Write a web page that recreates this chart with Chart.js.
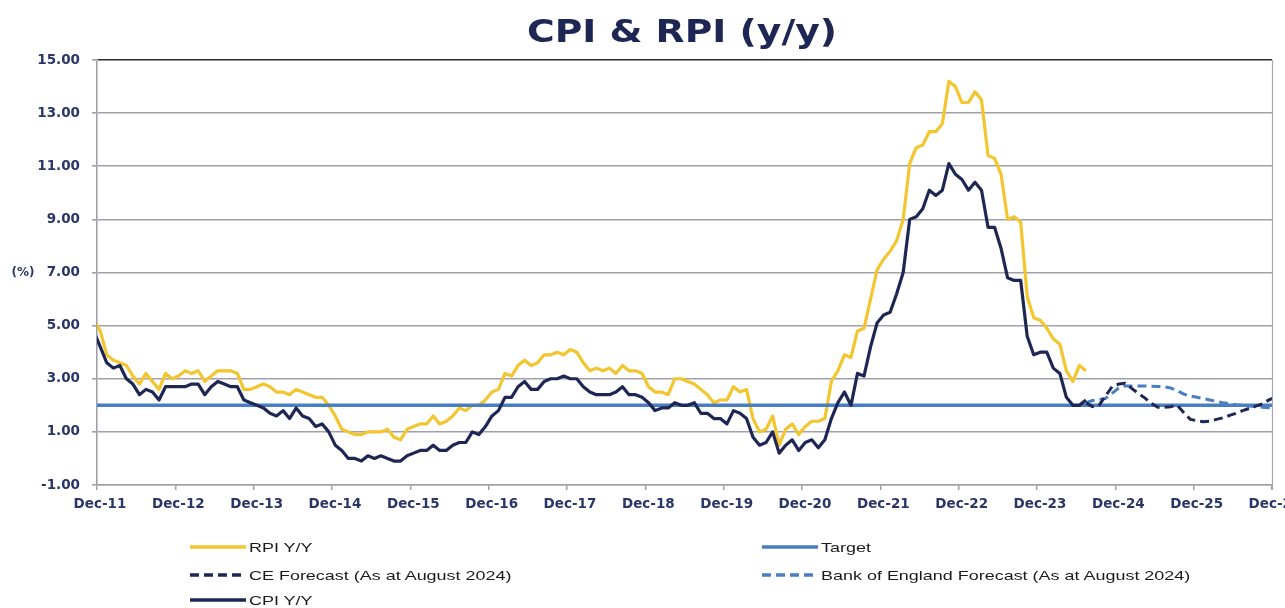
<!DOCTYPE html>
<html><head><meta charset="utf-8">
<script src="https://cdn.jsdelivr.net/npm/chart.js@4.4.1/dist/chart.umd.min.js"></script>
<style>
html,body{margin:0;padding:0;background:#fff;}
#wrap{position:relative;width:1285px;height:608px;overflow:hidden;background:#fff;}
canvas{position:absolute;left:0;top:0;}
.leg{position:absolute;display:flex;align-items:center;height:20px;font-family:'Liberation Sans',Arial,sans-serif;font-size:13.5px;color:#1a1a1a;white-space:nowrap;}
.leg svg{flex:none;}
.leg span{display:inline-block;transform:scaleX(1.33);transform-origin:left center;margin-left:3px;}
</style></head>
<body><div id="wrap"><canvas id="c" width="1285" height="608"></canvas><div id="legend"></div></div>
<script>
// ---- data (monthly, history starts Nov-11) ----
const historyStart = 'Nov-11';
const rpiYoY = [5.2, 4.8,
  3.9,3.7,3.6,3.5,3.1,2.8,3.2,2.9,2.6,3.2,3.0,3.1,
  3.3,3.2,3.3,2.9,3.1,3.3,3.3,3.3,3.2,2.6,2.6,2.7,
  2.8,2.7,2.5,2.5,2.4,2.6,2.5,2.4,2.3,2.3,2.0,1.6,
  1.1,1.0,0.9,0.9,1.0,1.0,1.0,1.1,0.8,0.7,1.1,1.2,
  1.3,1.3,1.6,1.3,1.4,1.6,1.9,1.8,2.0,2.0,2.2,2.5,
  2.6,3.2,3.1,3.5,3.7,3.5,3.6,3.9,3.9,4.0,3.9,4.1,
  4.0,3.6,3.3,3.4,3.3,3.4,3.2,3.5,3.3,3.3,3.2,2.7,
  2.5,2.5,2.4,3.0,3.0,2.9,2.8,2.6,2.4,2.1,2.2,2.2,
  2.7,2.5,2.6,1.5,1.0,1.1,1.6,0.5,1.1,1.3,0.9,1.2,
  1.4,1.4,1.5,2.9,3.3,3.9,3.8,4.8,4.9,6.0,7.1,7.5,
  7.8,8.2,9.0,11.1,11.7,11.8,12.3,12.3,12.6,14.2,14.0,13.4,
  13.4,13.8,13.5,11.4,11.3,10.7,9.0,9.1,8.9,6.1,5.3,5.2,
  4.9,4.5,4.3,3.3,2.9,3.5,3.3];
const cpiYoY = [4.8, 4.2,
  3.6,3.4,3.5,3.0,2.8,2.4,2.6,2.5,2.2,2.7,2.7,2.7,
  2.7,2.8,2.8,2.4,2.7,2.9,2.8,2.7,2.7,2.2,2.1,2.0,
  1.9,1.7,1.6,1.8,1.5,1.9,1.6,1.5,1.2,1.3,1.0,0.5,
  0.3,0.0,0.0,-0.1,0.1,0.0,0.1,0.0,-0.1,-0.1,0.1,0.2,
  0.3,0.3,0.5,0.3,0.3,0.5,0.6,0.6,1.0,0.9,1.2,1.6,
  1.8,2.3,2.3,2.7,2.9,2.6,2.6,2.9,3.0,3.0,3.1,3.0,
  3.0,2.7,2.5,2.4,2.4,2.4,2.5,2.7,2.4,2.4,2.3,2.1,
  1.8,1.9,1.9,2.1,2.0,2.0,2.1,1.7,1.7,1.5,1.5,1.3,
  1.8,1.7,1.5,0.8,0.5,0.6,1.0,0.2,0.5,0.7,0.3,0.6,
  0.7,0.4,0.7,1.5,2.1,2.5,2.0,3.2,3.1,4.2,5.1,5.4,
  5.5,6.2,7.0,9.0,9.1,9.4,10.1,9.9,10.1,11.1,10.7,10.5,
  10.1,10.4,10.1,8.7,8.7,7.9,6.8,6.7,6.7,4.6,3.9,4.0,
  4.0,3.4,3.2,2.3,2.0,2.0,2.2];
// forecasts, monthly, start Jul-24
const forecastStart = 'Jul-24';
const ceForecast = [2.1,1.95,2.0,2.35,2.7,2.8,
  2.83,2.64,2.45,2.28,2.08,1.93,1.93,1.95,2.0,1.72,1.47,1.42,
  1.38,1.4,1.47,1.53,1.62,1.7,1.8,1.88,1.97,2.05,2.2,2.3];
const boeForecast = [2.1,2.18,2.22,2.26,2.45,2.65,
  2.73,2.73,2.73,2.73,2.72,2.71,2.7,2.65,2.55,2.42,2.35,2.3,
  2.25,2.2,2.15,2.1,2.06,2.02,2.0,1.97,1.95,1.93,1.91,1.89];
const targetRate = 2.0;
const xTickLabels = ['Dec-11','Dec-12','Dec-13','Dec-14','Dec-15','Dec-16','Dec-17','Dec-18',
  'Dec-19','Dec-20','Dec-21','Dec-22','Dec-23','Dec-24','Dec-25','Dec-26'];
const yTicks = [-1,1,3,5,7,9,11,13,15];

// ---- helpers ----
const MONTHS = ['Jan','Feb','Mar','Apr','May','Jun','Jul','Aug','Sep','Oct','Nov','Dec'];
function monthIndex(lbl){ // months since Dec-11
  const [m,y] = lbl.split('-');
  return (2000+parseInt(y,10)-2011)*12 + MONTHS.indexOf(m) - 11;
}
function series(arr, startLbl){ // monthly value plotted mid-month
  const s = monthIndex(startLbl);
  return arr.map((v,k)=>({x: s + k + 0.5, y: v}));
}
const xMax = (xTickLabels.length-1)*12;

const NAVY = '#1E2654', GOLD = '#F3C52E', BLUE = '#4A7EC2';
const TICKCOL = '#2B3668';
const datasets = [
  {label:'RPI Y/Y', data: series(rpiYoY, historyStart), borderColor: GOLD, borderWidth: 3.2, order: 5},
  {label:'Target', data: [{x:0,y:targetRate},{x:xMax,y:targetRate}], borderColor: BLUE, borderWidth: 3.5, order: 4},
  {label:'CE Forecast (As at August 2024)', data: series(ceForecast, forecastStart), borderColor: NAVY, borderWidth: 3, borderDash:[9,5], order: 2},
  {label:'Bank of England Forecast (As at August 2024)', data: series(boeForecast, forecastStart), borderColor: BLUE, borderWidth: 3, borderDash:[9,5], order: 3},
  {label:'CPI Y/Y', data: series(cpiYoY, historyStart), borderColor: NAVY, borderWidth: 3.2, order: 1}
];
datasets.forEach(d=>{ d.pointRadius=0; d.tension=0; d.fill=false; d.backgroundColor=d.borderColor; d.borderCapStyle='butt'; d.borderJoinStyle='round'; });

const decor = {
  id:'decor',
  afterDraw(chart){
    const c = chart.ctx, a = chart.chartArea;
    c.save();
    // right border of plot
    c.strokeStyle = '#A8A8B0'; c.lineWidth = 1.2;
    c.beginPath(); c.moveTo(a.right+0.5, a.top); c.lineTo(a.right+0.5, a.bottom+5); c.stroke();
    // title (slightly wide, like the reference)
    c.save();
    c.translate(682, 42); c.scale(1.18, 1);
    c.fillStyle = NAVY; c.font = 'bold 32px "DejaVu Sans", Verdana, sans-serif';
    c.textAlign = 'center'; c.textBaseline = 'alphabetic';
    c.fillText('CPI & RPI (y/y)', 0, 0);
    c.restore();
    // y axis title
    c.fillStyle = TICKCOL; c.font = 'bold 12px "DejaVu Sans", Verdana, sans-serif';
    c.textAlign = 'center'; c.textBaseline = 'middle';
    c.fillText('(%)', 23, chart.scales.y.getPixelForValue(7));
    c.restore();
  }
};

const tickFont = {family:'"DejaVu Sans", Verdana, sans-serif', size: 13.5, weight:'bold'};
new Chart(document.getElementById('c'), {
  type:'line',
  data:{datasets},
  options:{
    responsive:false, animation:false, devicePixelRatio:1,
    layout:{padding:{left:0,right:13,top:60,bottom:0}},
    plugins:{legend:{display:false}, tooltip:{enabled:false}, title:{display:false}},
    scales:{
      x:{type:'linear', min:0, max:xMax,
        afterBuildTicks(s){ s.ticks = xTickLabels.map((l,i)=>({value:i*12})); },
        ticks:{autoSkip:false, maxRotation:0, minRotation:0, color:TICKCOL, font:tickFont, padding:6, labelOffset:3,
          callback:(v)=> xTickLabels[Math.round(v/12)] },
        grid:{drawOnChartArea:false, tickLength:5, color:'#A0A0A8', lineWidth:1.5},
        border:{display:true, color:'#A0A0A8', width:1.5},
        afterFit(s){ s.height = 123; s.paddingLeft = 0; s.paddingRight = 0; }
      },
      y:{min:-1, max:15,
        afterBuildTicks(s){ s.ticks = yTicks.map(v=>({value:v})); },
        ticks:{color:TICKCOL, font:tickFont, padding:12, callback:(v)=>Number(v).toFixed(2)},
        grid:{color:(ctx)=> ctx.tick && ctx.tick.value===15 ? '#2A2A2A' : '#A0A0AA', lineWidth:1.6, tickLength:5, tickColor:'#A0A0AA'},
        border:{display:true, color:'#A0A0A8', width:1.6},
        afterFit(s){ s.width = 97; s.paddingTop = 0; s.paddingBottom = 0; }
      }
    }
  },
  plugins:[decor]
});

// ---- legend (HTML, two columns) ----
const legendPos = [[190,547],[762,547],[190,575],[762,575],[190,600]];
const lg = document.getElementById('legend');
datasets.forEach((d,i)=>{
  const [x,y] = legendPos[i];
  const el = document.createElement('div');
  el.className = 'leg';
  el.style.left = x+'px'; el.style.top = (y-10)+'px';
  const dash = d.borderDash ? `stroke-dasharray="${d.borderDash.join(',')}"` : '';
  el.innerHTML = `<svg width="56" height="20"><line x1="0" y1="10" x2="56" y2="10" stroke="${d.borderColor}" stroke-width="3.5" ${dash}/></svg><span>${d.label}</span>`;
  lg.appendChild(el);
});
</script>
</body></html>
